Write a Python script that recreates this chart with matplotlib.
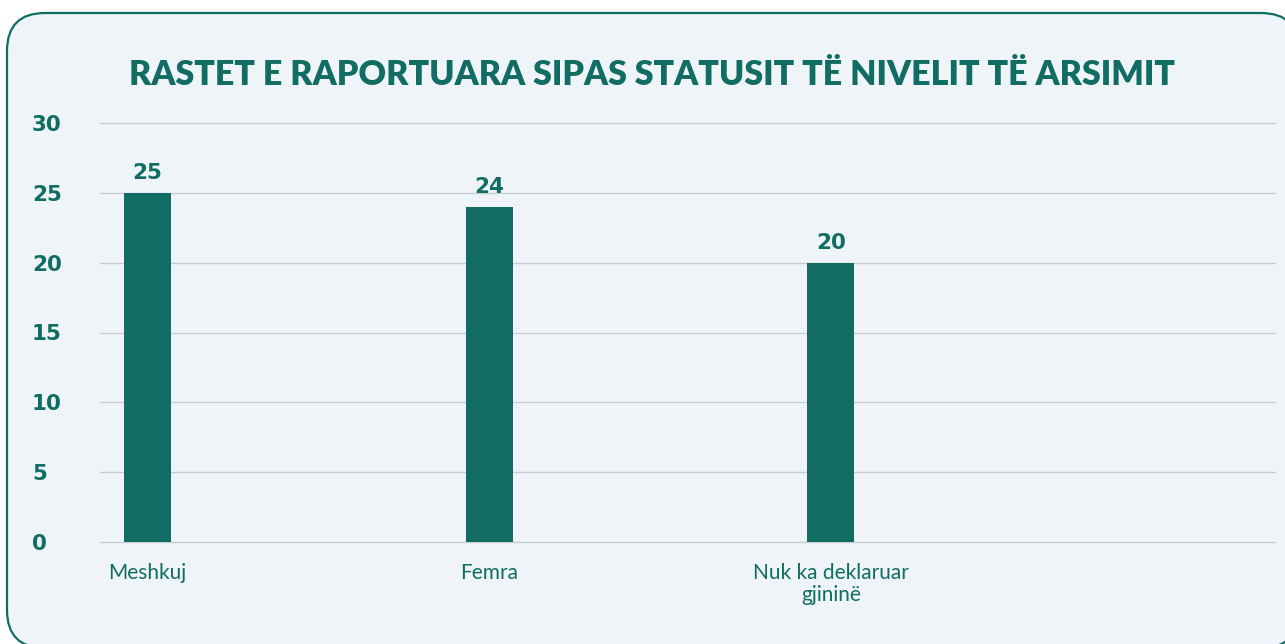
import matplotlib
matplotlib.use("Agg")
import matplotlib.pyplot as plt
from matplotlib.patches import FancyBboxPatch
from matplotlib.transforms import IdentityTransform

# data
categories = ["Meshkuj", "Femra", "Nuk ka deklaruar\ngjininë"]
cases = [25, 24, 20]
yticks = [0, 5, 10, 15, 20, 25, 30]
title = "RASTET E RAPORTUARA SIPAS STATUSIT TË NIVELIT TË ARSIMIT"

TEAL = "#116d63"
BG = "#eef4f7"
GRID = "#c9ccd1"
NUMFONT = ["DejaVu Sans"]

plt.rcParams["font.family"] = ["Lato", "DejaVu Sans"]

W, H = 1285, 644
fig = plt.figure(figsize=(W / 100, H / 100), dpi=100)
fig.patch.set_facecolor("white")

# rounded card behind the chart, in pixels
card = FancyBboxPatch((7, -4), 1292, H - 13 + 4,
                      boxstyle="round,pad=0,rounding_size=38",
                      transform=IdentityTransform(),
                      facecolor=BG, edgecolor=TEAL, linewidth=1.6, zorder=-5)
fig.patches.append(card)

ax = fig.add_axes([100 / W, 102 / H, 1175 / W, 419 / H])
ax.set_facecolor("none")
ax.set_zorder(2)
for s in ax.spines.values():
    s.set_visible(False)

x = list(range(len(categories)))
bars = ax.bar(x, cases, width=0.138, color=TEAL, zorder=3)
for b, v in zip(bars, cases):
    ax.annotate(str(v), (b.get_x() + b.get_width() / 2, v),
                xytext=(0, 7), textcoords="offset points",
                ha="center", va="bottom", color=TEAL, family=NUMFONT,
                fontsize=15.5, fontweight="bold")

ax.set_xlim(-0.139, 3.30)
ax.set_ylim(0, 30)
ax.set_yticks(yticks)
ax.set_yticklabels([str(t) for t in yticks], fontsize=15.5, fontweight="bold",
                   family=NUMFONT, color=TEAL, ha="left")
ax.tick_params(axis="y", length=0, pad=49)
ax.set_xticks(x)
ax.set_xticklabels(categories, fontsize=15, color=TEAL, linespacing=1.15)
ax.tick_params(axis="x", length=0, pad=15)
ax.grid(axis="y", color=GRID, linewidth=1, zorder=0)
for gl in ax.get_ygridlines():
    gl.set_clip_on(False)

fig.text(652 / W, 1 - 75 / H, title, ha="center", va="center",
         fontsize=24.5, fontweight="heavy", color=TEAL, zorder=3)

fig.savefig("out.png", dpi=100, facecolor="white")
